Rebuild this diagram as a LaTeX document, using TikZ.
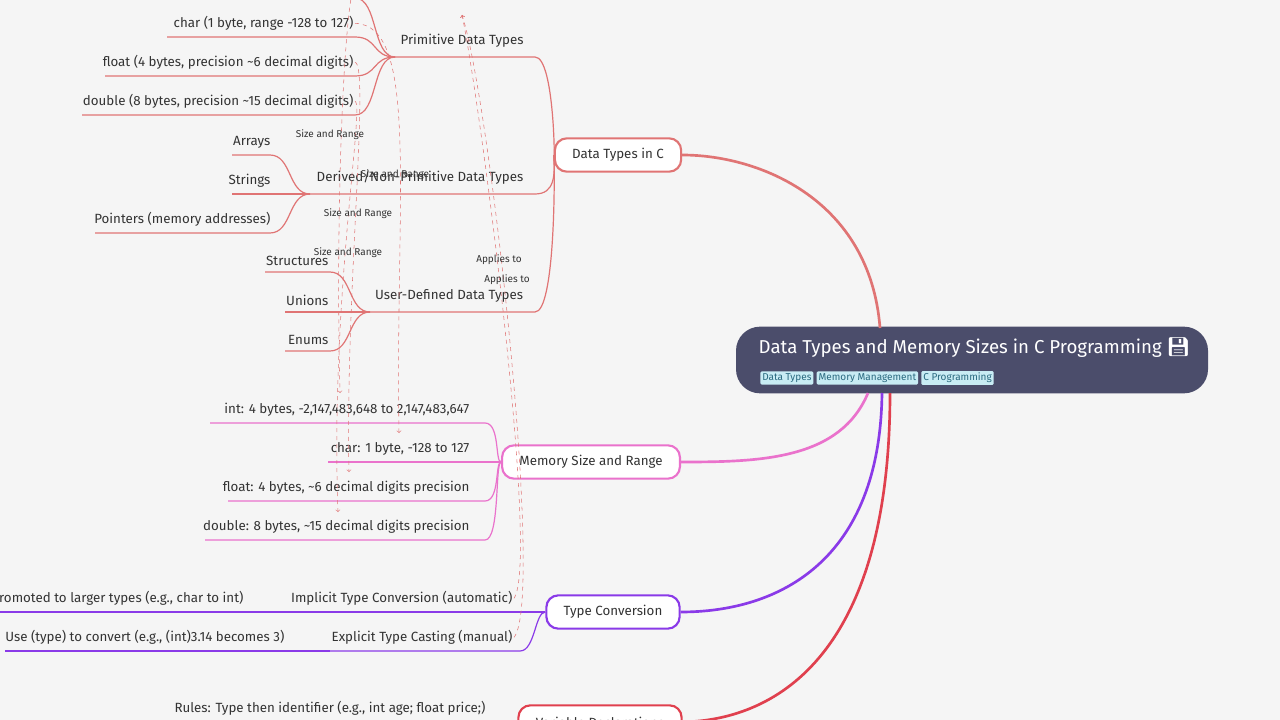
\documentclass[tikz,border=0pt]{standalone}
\usepackage{fontspec}
\setmainfont{Fira Sans}
\newfontfamily\emojifont{Noto Emoji}
\usetikzlibrary{positioning}
\definecolor{bg}{HTML}{F5F5F5}
\definecolor{rootc}{HTML}{4B4D6B}
\definecolor{dtc}{HTML}{E07474}
\definecolor{msc}{HTML}{EA72CC}
\definecolor{tcc}{HTML}{8A3AE8}
\definecolor{vdc}{HTML}{E0404E}
\definecolor{tagc}{HTML}{C8ECF4}
\definecolor{tagt}{HTML}{2A6A80}
\definecolor{txt}{HTML}{333333}
\tikzset{
  branch/.style={draw=#1, line width=1.6pt, rounded corners=9pt, fill=white, minimum height=25pt, inner xsep=13pt, font=\fontsize{10}{12}\selectfont, text=txt},
  leaf/.style={font=\fontsize{10}{12}\selectfont, text=txt, inner sep=1pt},
  tag/.style={fill=tagc, text=tagt, font=\fontsize{7.5}{9}\selectfont, inner sep=1.5pt, rounded corners=1pt},
  xlink/.style={draw=dtc, dashed, thin, ->},
  xlabel/.style={font=\fontsize{7.5}{9}\selectfont, text=txt}
}
\begin{document}
\begin{tikzpicture}[x=0.75pt,y=-0.75pt]
		% Background
		\fill[bg] (0,0) rectangle (1280,720);
		\clip (0,0) rectangle (1280,720);
		% Root
		\node[fill=rootc, rounded corners=18pt, minimum width=354pt, minimum height=50pt] (root) at (972,360) {};
		\node[anchor=west, text=white, font=\fontsize{14}{16}\selectfont] (title) at (754,348) {Data Types and Memory Sizes in C Programming {\emojifont 💾}};
		\node[tag, anchor=west] (t1) at (760,378) {Data Types};
		\node[tag, right=2pt of t1] (t2) {Memory Management};
		\node[tag, right=2pt of t2] (t3) {C Programming};
		% Main branches
		\node[branch=dtc] (dt) at (618,155) {Data Types in C};
		\node[branch=msc] (ms) at (591,462) {Memory Size and Range};
		\node[branch=tcc] (tc) at (613,612) {Type Conversion};
		\node[branch=vdc] (vd) at (600,722) {Variable Declarations};
		\draw[dtc, line width=2pt] (880,328) .. controls (870,200) and (760,155) .. (dt.east);
		\draw[msc, line width=2pt] (868,393) .. controls (840,460) and (760,462) .. (ms.east);
		\draw[tcc, line width=2pt] (882,393) .. controls (880,560) and (780,612) .. (tc.east);
		\draw[vdc, line width=2pt] (890,393) .. controls (890,650) and (780,720) .. (vd.east);
		% Data types in C
		\node[leaf] (prim) at (462,41) {Primitive Data Types};
		\node[leaf] (deri) at (420,178) {Derived/Non-Primitive Data Types};
		\node[leaf] (user) at (449,296) {User-Defined Data Types};
		\coordinate (primL) at (395,57); \coordinate (deriL) at (310,194); \coordinate (userL) at (370,312);
		\foreach \n/\y in {primL/57, deriL/194, userL/312}
			\draw[dtc, line width=0.9pt] (\n) -- (535,\y) .. controls (555,\y) and (555,175) .. (dt.west);
		\foreach \t/\x/\y/\a/\name in {{int (4 bytes, range -2,147,483,648 to 2,147,483,647)}/355/-17/90/pi, {char (1 byte, range -128 to 127)}/355/22/167/pc, {float (4 bytes, precision \textasciitilde 6 decimal digits)}/355/61/105/pf, {double (8 bytes, precision \textasciitilde 15 decimal digits)}/355/100/82/pd}{
			\node[leaf, anchor=south east] (\name) at (\x,\y+10) {\t};
			\draw[dtc, line width=0.9pt] (\a,\y+15) -- (\x,\y+15) .. controls (378,\y+15) and (372,57) .. (primL);
		}
		\foreach \t/\y/\a/\name in {Arrays/155/232/da, Strings/194/232/ds, {Pointers (memory addresses)}/233/95/dp}{
			\node[leaf, anchor=south east] (\name) at (272,\y-5) {\t};
			\draw[dtc, line width=0.9pt] (\a,\y) -- (270,\y) .. controls (292,\y) and (288,194) .. (deriL);
		}
		\foreach \t/\y/\a/\name in {Structures/272/265/us, Unions/312/285/uu, Enums/351/285/ue}{
			\node[leaf, anchor=south east] (\name) at (330,\y-5) {\t};
			\draw[dtc, line width=0.9pt] (\a,\y) -- (330,\y) .. controls (352,\y) and (348,312) .. (userL);
		}
		% Memory size and range
		\foreach \t/\y/\a/\name in {{int: 4 bytes, -2,147,483,648 to 2,147,483,647}/423/210/mi, {char: 1 byte, -128 to 127}/462/328/mc, {float: 4 bytes, \textasciitilde 6 decimal digits precision}/501/228/mf, {double: 8 bytes, \textasciitilde 15 decimal digits precision}/540/205/md}{
			\node[leaf, anchor=south east] (\name) at (471,\y-5) {\t};
			\draw[msc, line width=0.9pt] (\a,\y) -- (485,\y) .. controls (500,\y) and (495,462) .. (ms.west);
		}
		% Type conversion
		\node[leaf, anchor=south east] (imp) at (514,607) {Implicit Type Conversion (automatic)};
		\node[leaf, anchor=south east] (exp) at (514,646) {Explicit Type Casting (manual)};
		\coordinate (impL) at (290,612); \coordinate (expL) at (330,651);
		\draw[tcc, line width=0.9pt] (impL) -- (520,612) .. controls (530,612) and (530,612) .. (tc.west);
		\draw[tcc, line width=0.9pt] (expL) -- (520,651) .. controls (535,651) and (535,612) .. (tc.west);
		\node[leaf, anchor=south east] (promo) at (245,607) {promoted to larger types (e.g., char to int)};
		\draw[tcc, line width=0.9pt] (-10,612) -- (impL);
		\node[leaf, anchor=south east] (use) at (286,646) {Use (type) to convert (e.g., (int)3.14 becomes 3)};
		\draw[tcc, line width=0.9pt] (5,651) -- (290,651) .. controls (310,651) and (315,651) .. (expL);
		% Variable declarations
		\node[leaf, anchor=south east] (rule) at (487,717) {Rules: Type then identifier (e.g., int age; float price;)};
		\draw[vdc, line width=0.9pt] (160,722) -- (505,722) -- (vd.west);
		% Cross links
		\draw[xlink] (pi.east) .. controls (345,-5) and (335,200) .. (340,393);
		\draw[xlink] (pc.east) .. controls (420,25) and (395,200) .. (399,433);
		\draw[xlink] (pf.east) .. controls (370,64) and (345,300) .. (349,472);
		\draw[xlink] (pd.east) .. controls (365,103) and (330,300) .. (338,512);
		\draw[xlink] (imp.east) .. controls (540,560) and (480,100) .. (462,15);
		\draw[xlink] (exp.east) .. controls (545,600) and (490,100) .. (462,15);
		\node[xlabel] (l1) at (330,135) {Size and Range};
		\node[xlabel] (l2) at (395,175) {Size and Range};
		\node[xlabel] (l3) at (358,214) {Size and Range};
		\node[xlabel] (l4) at (348,253) {Size and Range};
		\node[xlabel] (l5) at (499,260) {Applies to};
		\node[xlabel] (l6) at (507,280) {Applies to};
	\end{tikzpicture}
\end{document}
